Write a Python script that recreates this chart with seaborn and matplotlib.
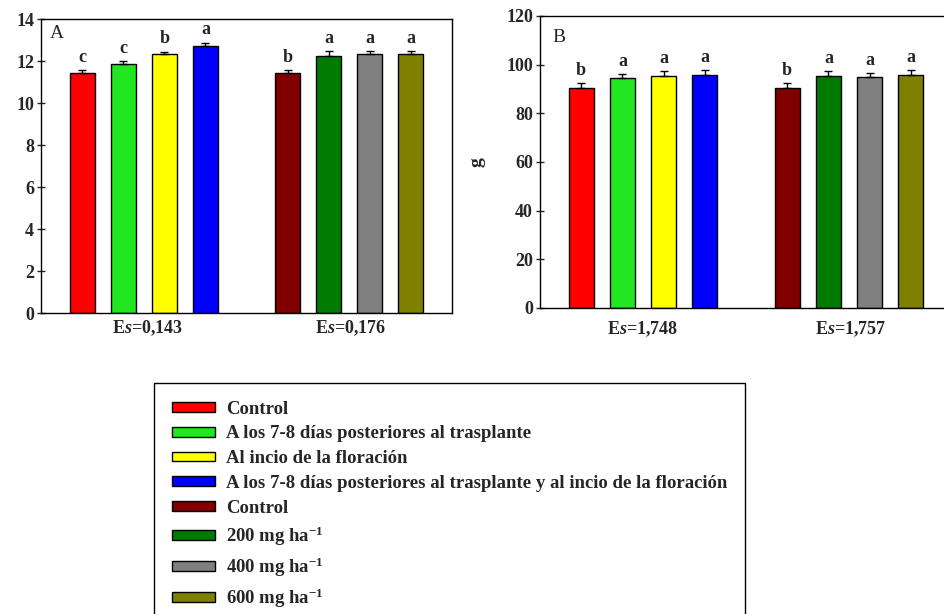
import matplotlib
matplotlib.use("Agg")
import matplotlib.pyplot as plt
import seaborn as sns
import pandas as pd
import numpy as np
from matplotlib.patches import Patch

# ---------------- data ----------------
keys = ["c1", "t1", "t2", "t3", "c2", "d200", "d400", "d600"]
order = ["c1", "t1", "t2", "t3", "gap", "c2", "d200", "d400", "d600"]
colors = ["#ff0000", "#22e622", "#ffff00", "#0000ff",
          "#800000", "#007a00", "#808080", "#808000"]
legend_labels = [
    "Control",
    "A los 7-8 días posteriores al trasplante",
    "Al incio de la floración",
    "A los 7-8 días posteriores al trasplante y al incio de la floración",
    "Control",
    "200 mg ha$^{-1}$",
    "400 mg ha$^{-1}$",
    "600 mg ha$^{-1}$",
]
vals_a = [11.43, 11.85, 12.32, 12.73, 11.42, 12.26, 12.34, 12.34]
err_a = [0.13, 0.13, 0.12, 0.14, 0.14, 0.20, 0.13, 0.13]
let_a = ["c", "c", "b", "a", "b", "a", "a", "a"]
vals_b = [90.3, 94.5, 95.3, 95.8, 90.3, 95.2, 95.0, 95.8]
err_b = [2.0, 1.5, 2.0, 2.0, 2.2, 2.0, 1.5, 2.0]
let_b = ["b", "a", "a", "a", "b", "a", "a", "a"]
es_a = ["E$\\mathit{s}$=0,143", "E$\\mathit{s}$=0,176"]
es_b = ["E$\\mathit{s}$=1,748", "E$\\mathit{s}$=1,757"]
yticks_a = [0, 2, 4, 6, 8, 10, 12, 14]
yticks_b = [0, 20, 40, 60, 80, 100, 120]

# ---------------- style ----------------
sns.set_theme(style="white")
plt.rcParams["font.family"] = ["Liberation Serif", "DejaVu Serif"]
plt.rcParams["font.weight"] = "bold"
plt.rcParams["mathtext.fontset"] = "custom"
plt.rcParams["mathtext.rm"] = "Liberation Serif:bold"
plt.rcParams["mathtext.it"] = "Liberation Serif:italic:bold"
plt.rcParams["mathtext.bf"] = "Liberation Serif:bold"
plt.rcParams["axes.edgecolor"] = "black"
plt.rcParams["axes.linewidth"] = 1.0

W, H = 945, 614
fig = plt.figure(figsize=(W / 100, H / 100), dpi=100)


def px_axes(l, r, t, b):
    return fig.add_axes([l / W, 1 - b / H, (r - l) / W, (b - t) / H])


ax_a = px_axes(41, 452, 19, 313)
ax_b = px_axes(540, 952, 16, 308)

palette = dict(zip(keys, colors))


def draw(ax, vals, errs, letters, ymax, yticks, es_labels, es_pos, pad):
    df = pd.DataFrame({"k": keys, "v": vals})
    sns.barplot(data=df, x="k", y="v", order=order, hue="k", hue_order=keys,
                palette=palette, width=0.61, edgecolor="black", linewidth=1.0,
                errorbar=None, legend=False, ax=ax, saturation=1)
    pos = [order.index(k) for k in keys]
    ax.errorbar(pos, vals, yerr=[np.zeros(len(vals)), errs], fmt="none",
                ecolor="black", elinewidth=1.0, capsize=3, capthick=1.0)
    for p, v, e, l in zip(pos, vals, errs, letters):
        ax.annotate(l, (p, v + e), xytext=(0, 6), textcoords="offset points",
                    ha="center", va="baseline", fontsize=13, fontweight="bold")
    ax.set_xlim(-1, 9)
    ax.set_ylim(0, ymax)
    ax.set_yticks(yticks)
    ax.set_yticklabels([str(t) for t in yticks], fontsize=13, fontweight="bold")
    ax.set_xticks(es_pos)
    ax.set_xticklabels(es_labels, fontsize=13)
    ax.tick_params(axis="x", length=0, pad=pad)
    ax.tick_params(axis="y", direction="inout", length=6, width=1.0, pad=2,
                   left=True)
    ax.set_xlabel("")
    ax.set_ylabel("")
    for s in ax.spines.values():
        s.set_visible(True)
        s.set_color("black")
        s.set_linewidth(1.0)


draw(ax_a, vals_a, err_a, let_a, 14, yticks_a, es_a, [1.6, 6.54], 4)
draw(ax_b, vals_b, err_b, let_b, 120, yticks_b, es_b, [1.5, 6.52], 8)

ax_a.text((50 - 41) / 411, (313 - 33) / 294, "A", transform=ax_a.transAxes,
          ha="left", va="center", fontsize=14, fontweight="normal")
ax_b.text((552 - 540) / 412, (308 - 37) / 292, "B", transform=ax_b.transAxes,
          ha="left", va="center", fontsize=14, fontweight="normal")

ax_b.set_ylabel("g", fontsize=14, fontweight="bold")
ax_b.yaxis.set_label_coords((486 - 540) / 412, 0.5)

handles = [Patch(facecolor=c, edgecolor="black", linewidth=1.0) for c in colors]
leg = fig.legend(handles, legend_labels, loc="upper left",
                 bbox_to_anchor=(154 / W, 1 - 383 / H), frameon=True,
                 fancybox=False, edgecolor="black", framealpha=1,
                 prop={"family": "Liberation Serif", "weight": "bold", "size": 13.5},
                 handlelength=2.3, handleheight=0.43, handletextpad=0.6,
                 borderpad=0.95, labelspacing=0.41, borderaxespad=0)
leg.get_frame().set_linewidth(1.0)

fig.savefig("out.png", dpi=100)
